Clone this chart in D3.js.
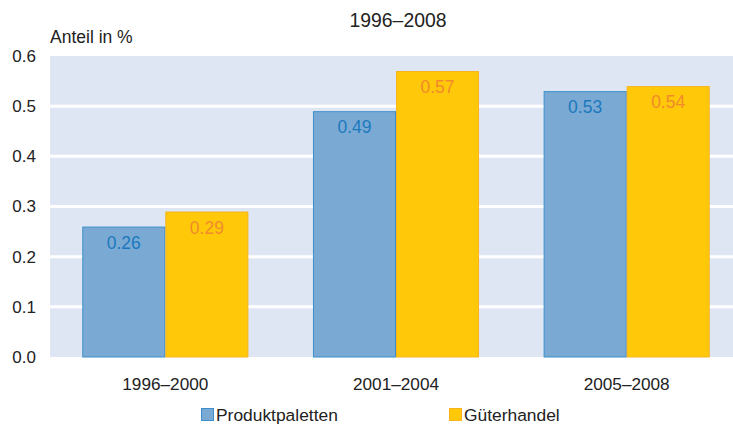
<!DOCTYPE html>
<html>
<head>
<meta charset="utf-8">
<script src="https://cdn.jsdelivr.net/npm/d3@7"></script>
<style>
body { margin: 0; background: #fff; }
svg { font-family: "Liberation Sans", Arial, sans-serif; }
</style>
</head>
<body>
<script>
var periods = ["1996–2000", "2001–2004", "2005–2008"];
var seriesNames = ["Produktpaletten", "Güterhandel"];
var produktpaletten = [0.26, 0.49, 0.53];
var gueterhandel = [0.29, 0.57, 0.54];
var yTicks = [0, 0.1, 0.2, 0.3, 0.4, 0.5, 0.6];

var width = 733, height = 425;
var fills = ["#7aaad4", "#ffc90a"],
    strokes = ["#3d8fcb", "#f7b21e"],
    labelColors = ["#1c78bd", "#f28a2a"];

var svg = d3.select("body").append("svg")
    .attr("width", width)
    .attr("height", height);

var x = d3.scaleBand()
    .domain(periods)
    .range([50, 742])
    .paddingInner(0.28)
    .paddingOuter(0.14);

var xs = d3.scaleBand()
    .domain([0, 1])
    .range([0, x.bandwidth()]);

var y = d3.scaleLinear()
    .domain([0, 0.6])
    .range([357, 56]);

//plot background
svg.append("rect")
    .attr("x", 50)
    .attr("y", y(0.6))
    .attr("width", width - 50)
    .attr("height", y(0) - y(0.6))
    .attr("fill", "#dfe6f3");

//gridlines
svg.selectAll(".grid")
    .data(yTicks.slice(1, -1))
    .enter()
    .append("line")
    .attr("x1", 50)
    .attr("x2", width)
    .attr("y1", function(d){ return y(d); })
    .attr("y2", function(d){ return y(d); })
    .attr("stroke", "#fff")
    .attr("stroke-width", 3);

//y tick labels
svg.selectAll(".ytick")
    .data(yTicks)
    .enter()
    .append("text")
    .attr("x", 36)
    .attr("y", function(d){ return y(d); })
    .attr("dy", "0.35em")
    .attr("text-anchor", "end")
    .attr("font-size", 17)
    .attr("fill", "#222")
    .text(function(d){ return d3.format(".1f")(d); });

var rows = periods.map(function(p, i){
    return {period: p, values: [produktpaletten[i], gueterhandel[i]]};
});

var groups = svg.selectAll(".group")
    .data(rows)
    .enter()
    .append("g")
    .attr("transform", function(d){ return "translate(" + x(d.period) + ",0)"; });

groups.selectAll("rect")
    .data(function(d){ return d.values; })
    .enter()
    .append("rect")
    .attr("x", function(d, i){ return xs(i) + 0.5; })
    .attr("y", function(d){ return y(d) + 0.5; })
    .attr("width", xs.bandwidth() - 1)
    .attr("height", function(d){ return y(0) - y(d) - 0.5; })
    .attr("fill", function(d, i){ return fills[i]; })
    .attr("stroke", function(d, i){ return strokes[i]; })
    .attr("stroke-width", 1);

groups.selectAll(".val")
    .data(function(d){ return d.values; })
    .enter()
    .append("text")
    .attr("x", function(d, i){ return xs(i) + xs.bandwidth() / 2; })
    .attr("y", function(d){ return y(d) + 22; })
    .attr("text-anchor", "middle")
    .attr("font-size", 17.5)
    .attr("fill", function(d, i){ return labelColors[i]; })
    .text(function(d){ return d3.format(".2f")(d); });

//x labels
svg.selectAll(".xlab")
    .data(periods)
    .enter()
    .append("text")
    .attr("x", function(d){ return x(d) + x.bandwidth() / 2; })
    .attr("y", 390)
    .attr("text-anchor", "middle")
    .attr("font-size", 17.2)
    .attr("fill", "#222")
    .text(function(d){ return d; });

//title and axis label
svg.append("text")
    .attr("x", 398)
    .attr("y", 27)
    .attr("text-anchor", "middle")
    .attr("font-size", 19.4)
    .attr("fill", "#222")
    .text("1996–2008");

svg.append("text")
    .attr("x", 50)
    .attr("y", 43)
    .attr("font-size", 17.5)
    .attr("fill", "#222")
    .text("Anteil in %");

//legend
var legendX = [201, 449];
var legend = svg.selectAll(".legend")
    .data(seriesNames)
    .enter()
    .append("g")
    .attr("transform", function(d, i){ return "translate(" + legendX[i] + ",408)"; });

legend.append("rect")
    .attr("x", 0.5)
    .attr("y", 0.5)
    .attr("width", 12)
    .attr("height", 12)
    .attr("fill", function(d, i){ return fills[i]; })
    .attr("stroke", function(d, i){ return strokes[i]; });

legend.append("text")
    .attr("x", 15)
    .attr("y", 13)
    .attr("font-size", 17.4)
    .attr("fill", "#222")
    .text(function(d){ return d; });
</script>
</body>
</html>
